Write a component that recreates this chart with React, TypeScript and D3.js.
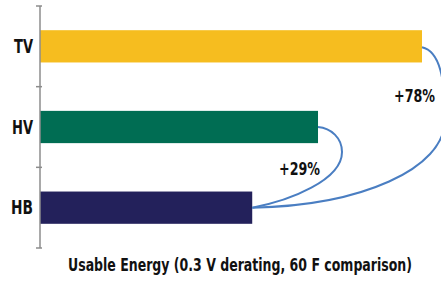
import React from 'react';
import * as d3 from 'd3';

const categories = ['TV', 'HV', 'HB'];
const values = [1.8, 1.31, 1.0];
const colors = ['#F6BD1F', '#006D53', '#23215B'];
const gains = ['+78%', '+29%'];
const xTitle = 'Usable Energy (0.3 V derating, 60 F comparison)';

const W = 441;
const H = 282;
const FONT = "'DejaVu Sans', Arial, sans-serif";

// width each label takes in the reference (condensed face)
const labelWidths: Record<string, number> = { TV: 19, HV: 21, HB: 22 };

export default function App() {
  const x = d3.scaleLinear().domain([0, 1.8]).range([40, 422]);
  const y = d3
    .scaleBand<string>()
    .domain(categories)
    .range([6, 248])
    .paddingInner(0.6)
    .paddingOuter(0.3);

  const step = y.step();
  const tickYs = d3.range(categories.length + 1).map(i => 6 + i * step);
  const mid = (c: string) => (y(c) as number) + y.bandwidth() / 2;

  // anchor points at bar ends
  const tv = [x(values[0]), mid('TV') + 1];
  const hv = [x(values[1]), mid('HV')];
  const hb = [x(values[2]), mid('HB')];

  const p1 = d3.path();
  p1.moveTo(tv[0], tv[1]);
  p1.bezierCurveTo(tv[0] + 18, tv[1] + 4, tv[0] + 23, tv[1] + 32, tv[0] + 23, tv[1] + 72);
  p1.bezierCurveTo(tv[0] + 23, tv[1] + 122, hb[0] + 108, hb[1] - 2, hb[0], hb[1]);

  const p2 = d3.path();
  p2.moveTo(hv[0], hv[1]);
  p2.bezierCurveTo(hv[0] + 13, hv[1] + 1, hv[0] + 24, hv[1] + 11, hv[0] + 24, hv[1] + 25);
  p2.bezierCurveTo(hv[0] + 24, hv[1] + 53, hb[0] + 38, hb[1] - 7, hb[0], hb[1]);

  return (
    <div style={{ position: 'fixed', left: 0, top: 0 }}>
      <svg width={W} height={H} style={{ display: 'block' }}>
        <rect width={W} height={H} fill="#fff" />
        {categories.map((c, i) => (
          <rect
            key={c}
            x={x(0)}
            y={y(c)}
            width={x(values[i]) - x(0)}
            height={y.bandwidth()}
            fill={colors[i]}
          />
        ))}
        <line x1={x(0)} x2={x(0)} y1={tickYs[0]} y2={tickYs[tickYs.length - 1]} stroke="#8c8c8c" strokeWidth={1.5} />
        {tickYs.map((t, i) => (
          <line key={i} x1={x(0) - 4} x2={x(0) + 2} y1={t} y2={t} stroke="#8c8c8c" strokeWidth={1.5} />
        ))}
        {categories.map(c => (
          <text
            key={c}
            x={x(0) - 7}
            y={mid(c) + 6.5}
            textAnchor="end"
            fontFamily={FONT}
            fontWeight="bold"
            fontSize={19}
            textLength={labelWidths[c]}
            lengthAdjust="spacingAndGlyphs"
            fill="#111"
          >
            {c}
          </text>
        ))}
        <path d={p1.toString()} fill="none" stroke="#4A7EC2" strokeWidth={2} />
        <path d={p2.toString()} fill="none" stroke="#4A7EC2" strokeWidth={2} />
        <text x={394} y={102} fontFamily={FONT} fontWeight="bold" fontSize={18}
          textLength={41} lengthAdjust="spacingAndGlyphs" fill="#111">
          {gains[0]}
        </text>
        <text x={279} y={175} fontFamily={FONT} fontWeight="bold" fontSize={18}
          textLength={41} lengthAdjust="spacingAndGlyphs" fill="#111">
          {gains[1]}
        </text>
        <text x={68} y={271} fontFamily={FONT} fontWeight="bold" fontSize={18}
          textLength={344} lengthAdjust="spacingAndGlyphs" fill="#111">
          {xTitle}
        </text>
      </svg>
    </div>
  );
}
